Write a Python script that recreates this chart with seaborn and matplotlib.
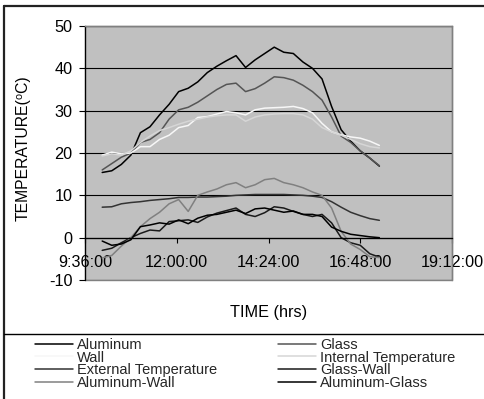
import numpy as np
import pandas as pd
import matplotlib
matplotlib.use("Agg")
import matplotlib.pyplot as plt
import seaborn as sns
from matplotlib.lines import Line2D

# ---------------- data ----------------
times = ["10:03", "10:18", "10:33", "10:48", "11:03", "11:18", "11:33", "11:48",
         "12:03", "12:18", "12:33", "12:48", "13:03", "13:18", "13:33", "13:48",
         "14:03", "14:18", "14:33", "14:48", "15:03", "15:18", "15:33", "15:48",
         "16:03", "16:18", "16:33", "16:48", "17:03", "17:18"]

aluminum = [15.4, 15.8, 17.3, 19.5, 24.8, 26.2, 29.0, 31.5, 34.5, 35.3, 36.8, 39.0,
            40.5, 41.8, 43.0, 40.2, 42.0, 43.5, 45.0, 43.8, 43.5, 41.5, 40.0, 37.5,
            31.0, 25.5, 22.8, 20.5, 18.8, 16.9]
glass = [16.0, 17.5, 19.0, 20.0, 22.5, 23.2, 24.8, 28.0, 30.2, 30.8, 32.0, 33.5,
         35.0, 36.2, 36.5, 34.5, 35.2, 36.5, 38.0, 37.8, 37.2, 36.0, 34.5, 32.5,
         28.5, 24.0, 22.5, 20.5, 18.8, 17.0]
wall = [19.5, 20.2, 19.8, 20.0, 21.5, 21.5, 23.2, 24.2, 26.0, 26.5, 28.4, 28.6,
        29.2, 29.8, 29.5, 29.0, 30.2, 30.6, 30.7, 30.8, 31.0, 30.5, 29.5, 27.0,
        25.0, 24.3, 23.8, 23.5, 22.8, 21.8]
internal = [19.3, 19.8, 19.5, 20.5, 22.5, 24.0, 25.3, 26.0, 26.8, 27.5, 28.0, 28.5,
            28.8, 29.0, 29.0, 27.5, 28.5, 29.0, 29.2, 29.3, 29.3, 29.0, 28.0, 26.0,
            25.0, 24.2, 23.2, 22.2, 21.5, 21.2]
external = [7.2, 7.3, 8.0, 8.3, 8.5, 8.8, 9.0, 9.2, 9.5, 9.5, 9.6, 9.6,
            9.7, 9.8, 10.0, 10.1, 10.2, 10.2, 10.2, 10.2, 10.1, 10.0, 9.8, 9.5,
            8.5, 7.2, 6.0, 5.2, 4.5, 4.1]
glass_wall = [-3.0, -2.5, -1.2, 0.0, 1.0, 1.8, 1.6, 3.8, 4.0, 4.2, 3.6, 4.9,
              5.8, 6.4, 7.0, 5.5, 5.0, 5.9, 7.3, 7.0, 6.2, 5.5, 5.0, 5.5,
              3.5, 0.0, -1.2, -1.8, -3.8, -4.6]
aluminum_wall = [-4.8, -4.2, -2.0, 0.0, 2.6, 4.5, 6.0, 8.0, 9.0, 6.2, 10.0, 10.8,
                 11.5, 12.5, 13.0, 11.8, 12.5, 13.7, 14.0, 13.0, 12.5, 11.8, 10.8, 10.0,
                 7.0, 1.5, -1.5, -2.8, -4.5, -4.7]
aluminum_glass = [-0.8, -1.8, -1.5, -0.5, 2.6, 3.0, 3.5, 3.2, 4.2, 3.3, 4.6, 5.3,
                  5.5, 6.0, 6.5, 5.7, 6.8, 7.0, 6.5, 6.0, 6.3, 5.5, 5.5, 5.0,
                  2.5, 1.5, 0.8, 0.5, 0.2, 0.0]

series_names = ["Aluminum", "Glass", "Wall", "Internal Temperature",
                "External Temperature", "Glass-Wall", "Aluminum-Wall", "Aluminum-Glass"]
y_ticks = [-10, 0, 10, 20, 30, 40, 50]
x_tick_labels = ["9:36:00", "12:00:00", "14:24:00", "16:48:00", "19:12:00"]


def to_hours(s):
    parts = [int(p) for p in s.split(":")]
    parts += [0] * (3 - len(parts))
    return parts[0] + parts[1] / 60 + parts[2] / 3600


hours = [to_hours(t) for t in times]
x_ticks = [to_hours(t) for t in x_tick_labels]

df = pd.DataFrame({"time": hours,
                   "Aluminum": aluminum, "Glass": glass, "Wall": wall,
                   "Internal Temperature": internal,
                   "External Temperature": external,
                   "Glass-Wall": glass_wall, "Aluminum-Wall": aluminum_wall,
                   "Aluminum-Glass": aluminum_glass})
long = df.melt(id_vars="time", var_name="series", value_name="temp")

colors = {"Aluminum": "#000000", "Glass": "#555555", "Wall": "#f7f7f7",
          "Internal Temperature": "#d6d6d6", "External Temperature": "#333333",
          "Glass-Wall": "#1a1a1a", "Aluminum-Wall": "#808080",
          "Aluminum-Glass": "#000000"}

# ---------------- figure ----------------
sns.set_theme(style="white")
plt.rcParams['font.family'] = ['Liberation Sans', 'DejaVu Sans']
plt.rcParams['axes.unicode_minus'] = False

W, H = 485, 399
fig = plt.figure(figsize=(W / 100, H / 100), dpi=100)
fig.patch.set_facecolor("white")
ax = fig.add_axes([85 / W, 1 - 280 / H, 367 / W, 254 / H])
ax.set_facecolor("#c0c0c0")
ax.patch.set_edgecolor("#808080")
ax.patch.set_linewidth(1.0)

sns.lineplot(data=long, x="time", y="temp", hue="series", hue_order=series_names,
             palette=colors, ax=ax, linewidth=1.1, legend=False, sort=False,
             estimator=None)

ax.set_xlim(x_ticks[0], x_ticks[-1])
ax.set_ylim(-10, 50)
ax.set_yticks(y_ticks)
ax.set_xticks(x_ticks)
ax.set_xticklabels(x_tick_labels)

ax.set_axisbelow(True)
ax.yaxis.grid(True, color="black", linewidth=0.8)
ax.xaxis.grid(False)

for s in ("top", "right"):
    ax.spines[s].set_color("#808080")
    ax.spines[s].set_linewidth(1.0)
ax.spines["left"].set_color("black")
ax.spines["left"].set_linewidth(0.9)
ax.spines["bottom"].set_position(("data", 0))
ax.spines["bottom"].set_color("black")
ax.spines["bottom"].set_linewidth(0.9)

ax.tick_params(axis="x", bottom=True, direction="out", length=3.5, width=0.8,
               color="black", pad=9, labelsize=11.7, labelcolor="black")
ax.tick_params(axis="y", left=True, direction="out", length=4, width=0.8,
               color="black", pad=5, labelsize=11.7, labelcolor="black")

ax.set_xlabel("TIME (hrs)", fontsize=11.7, color="black")
ax.xaxis.set_label_coords(0.5, -0.097)
ax.set_ylabel("TEMPERATURE(⁰C)", fontsize=11.3, color="black")
ax.yaxis.set_label_coords(-0.148, 0.52)

# outer chart frame and legend separator
fig.add_artist(Line2D([4 / W, 1], [1 - 6 / H] * 2, transform=fig.transFigure,
                      color="#222222", lw=1.6))
fig.add_artist(Line2D([4 / W] * 2, [0, 1 - 6 / H], transform=fig.transFigure,
                      color="#222222", lw=1.6))
fig.add_artist(Line2D([4 / W, 1], [1 - 334 / H] * 2, transform=fig.transFigure,
                      color="#000000", lw=1.0))

# legends (two columns)
col1 = ["Aluminum", "Wall", "External Temperature", "Aluminum-Wall"]
col2 = ["Glass", "Internal Temperature", "Glass-Wall", "Aluminum-Glass"]
for names, x0 in ((col1, 35), (col2, 278)):
    handles = [Line2D([], [], color=colors[n], lw=1.1) for n in names]
    leg = fig.legend(handles=handles, labels=names, loc="upper left",
                     bbox_to_anchor=(x0 / W, 1 - 338 / H),
                     bbox_transform=fig.transFigure, frameon=False,
                     fontsize=10.5, handlelength=2.6, handletextpad=0.27,
                     labelspacing=-0.1, borderpad=0, borderaxespad=0)

fig.savefig("out.png", dpi=100)
